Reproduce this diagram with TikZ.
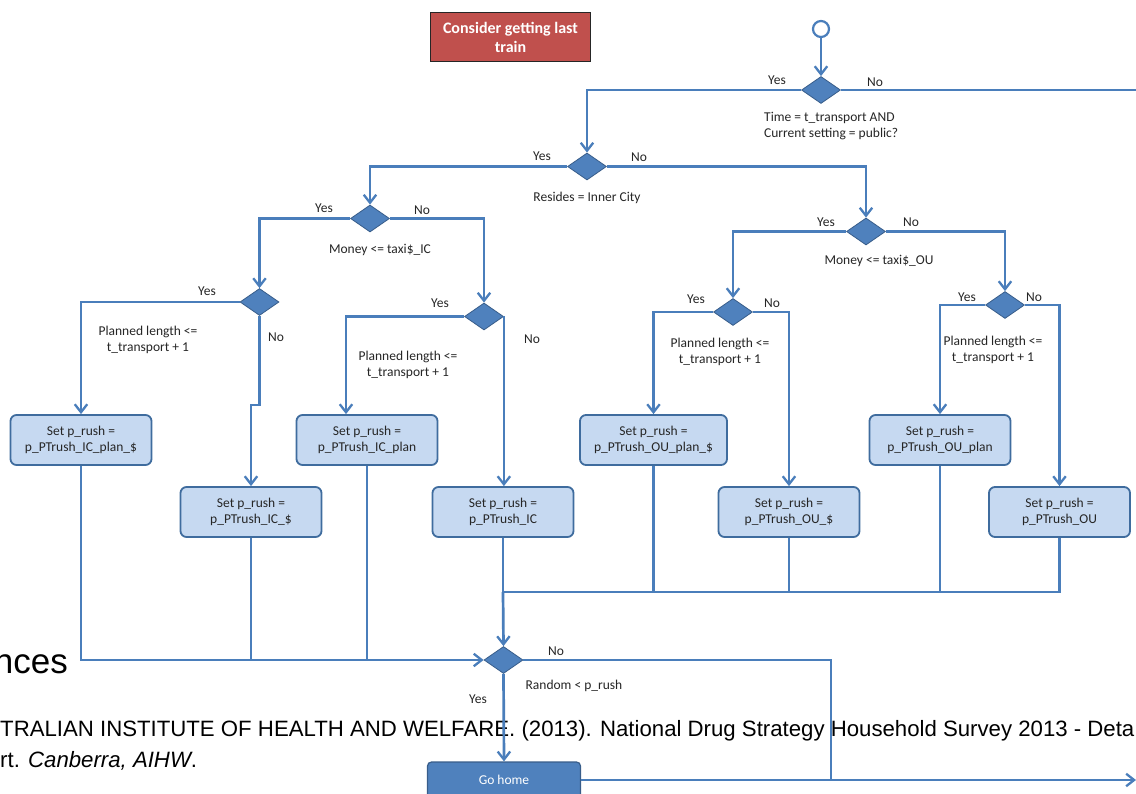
\documentclass[tikz,border=0pt]{standalone}
\usepackage{fontspec}
\setmainfont{Carlito}
\newfontfamily\bgfont{Liberation Sans}
\usetikzlibrary{shapes.geometric,arrows.meta}
\definecolor{lineblue}{HTML}{4A7EBB}
\definecolor{dfill}{HTML}{4F81BD}
\definecolor{dborder}{HTML}{385D8A}
\definecolor{bfill}{HTML}{C6D9F1}
\definecolor{bborder}{HTML}{3F6C9E}
\definecolor{redfill}{HTML}{C0504D}
\newcommand\lbl{\fontsize{13.5}{16}\selectfont}
\begin{document}
\begin{tikzpicture}[x=1pt,y=-1pt,
  conn/.style={draw=lineblue,line width=2.7pt},
  arr/.style={conn,-{Straight Barb[length=8pt,width=12.5pt,line width=2.3pt]}},
  dec/.style={diamond,draw=dborder,fill=dfill,line width=0.8pt,minimum width=39pt,minimum height=27pt,inner sep=0pt},
  proc/.style={rectangle,rounded corners=6pt,draw=bborder,fill=bfill,line width=1.8pt,minimum width=141pt,minimum height=50pt,align=center,font=\lbl,text=black!85,inner sep=0pt},
  lab/.style={font=\lbl,inner sep=0pt,align=center,text=black!85},
  bgtext/.style={inner sep=0pt,text=black}
]
\clip (0,0) rectangle (1136,794);
\fill[white] (0,0) rectangle (1136,794);

% background slide text
\node[bgtext,anchor=base east,font=\bgfont\fontsize{35}{40}\selectfont] (bg1) at (68,673) {nces};
\node[bgtext,anchor=base west,font=\bgfont\fontsize{22.2}{26}\selectfont] (bg2) at (0,736) {TRALIAN INSTITUTE OF HEALTH AND WELFARE. (2013). National Drug Strategy Household Survey 2013 - Deta};
\node[bgtext,anchor=base west,font=\bgfont\fontsize{22.2}{26}\selectfont] (bg3) at (0,767) {rt. \textit{Canberra, AIHW}.};

% title
\node[draw=black!85,fill=redfill,line width=1.8pt,minimum width=160pt,minimum height=49pt,align=center,text=white,inner sep=0pt,font=\bfseries\fontsize{16}{19}\selectfont] (title) at (510.5,37) {Consider getting last\\train};

% start
\node[circle,draw=lineblue,fill=white,line width=2.2pt,minimum size=16pt,inner sep=0pt] (start) at (821,29) {};

% decisions
\node[dec] (D1) at (821,90) {};
\node[dec] (D2) at (587,166.5) {};
\node[dec] (D3) at (370,218.5) {};
\node[dec] (D4) at (866,231.5) {};
\node[dec] (D5) at (259.5,302) {};
\node[dec] (D6) at (484,316.5) {};
\node[dec] (D7) at (733,312) {};
\node[dec] (D8) at (1005,305) {};
\node[dec] (D9) at (503.5,660) {};

% process boxes
\node[proc] (B1) at (81,440) {Set p\_rush =\\p\_PTrush\_IC\_plan\_\$};
\node[proc] (B2) at (251,512) {Set p\_rush =\\p\_PTrush\_IC\_\$};
\node[proc] (B3) at (367,440) {Set p\_rush =\\p\_PTrush\_IC\_plan};
\node[proc] (B4) at (503,512) {Set p\_rush =\\p\_PTrush\_IC};
\node[proc,minimum width=147pt] (B5) at (653.5,440) {Set p\_rush =\\p\_PTrush\_OU\_plan\_\$};
\node[proc] (B6) at (789,512) {Set p\_rush =\\p\_PTrush\_OU\_\$};
\node[proc] (B7) at (940,440) {Set p\_rush =\\p\_PTrush\_OU\_plan};
\node[proc] (B8) at (1059.5,512) {Set p\_rush =\\p\_PTrush\_OU};
\node[rectangle,rounded corners=4pt,draw=dborder,fill=dfill,line width=1.2pt,minimum width=153pt,minimum height=36pt,text=white,inner sep=0pt,font=\lbl] (home) at (504,780) {Go home};

% condition labels
\node[lab,anchor=west,align=left] (L1) at (764,126) {Time = t\_transport AND\\Current setting = public?};
\node[lab] (L2) at (587,198) {Resides = Inner City};
\node[lab] (L3) at (380,250) {Money <= taxi\$\_IC};
\node[lab] (L4) at (879,261) {Money <= taxi\$\_OU};
\node[lab] (L5) at (148,340) {Planned length <=\\t\_transport + 1};
\node[lab] (L6) at (408,365) {Planned length <=\\t\_transport + 1};
\node[lab] (L7) at (720,352) {Planned length <=\\t\_transport + 1};
\node[lab] (L8) at (993,350) {Planned length <=\\t\_transport + 1};
\node[lab] (L9) at (574,686) {Random < p\_rush};

% yes / no
\node[lab] (y1) at (777,80) {Yes};   \node[lab] (n1) at (875,82) {No};
\node[lab] (y2) at (542,156) {Yes};  \node[lab] (n2) at (639,157) {No};
\node[lab] (y3) at (324,208) {Yes};  \node[lab] (n3) at (422,210) {No};
\node[lab] (y4) at (826,222) {Yes};  \node[lab] (n4) at (911,222) {No};
\node[lab] (y5) at (207,291) {Yes};  \node[lab] (n5) at (276,337) {No};
\node[lab] (y6) at (440,303) {Yes};  \node[lab] (n6) at (532,339) {No};
\node[lab] (y7) at (696,299) {Yes};  \node[lab] (n7) at (772,303) {No};
\node[lab] (y8) at (967,297) {Yes};  \node[lab] (n8) at (1034,297) {No};
\node[lab] (y9) at (478,699) {Yes};  \node[lab] (n9) at (556,651) {No};

% coordinates
\coordinate (e1) at (1140,90);
\coordinate (j1) at (259.5,405);
\coordinate (j2) at (251,405);
\coordinate (bus) at (503,592);
\coordinate (rn) at (831,660);
\coordinate (rend) at (1136,780);

% connectors
\draw[arr] (start) -- (D1);
\draw[arr] (D1.west) -| (D2.north);
\draw[conn] (D1.east) -- (e1);
\draw[arr] (D2.west) -| (D3.north);
\draw[arr] (D2.east) -| (D4.north);
\draw[arr] (D3.west) -| (D5.north);
\draw[arr] (D3.east) -| (D6.north);
\draw[arr] (D4.west) -| (D7.north);
\draw[arr] (D4.east) -| (D8.north);
\draw[arr] (D5.west) -| (B1.north);
\draw[arr] (D5.south) -- (j1) -- (j2) -- (B2.north);
\draw[arr] (D6.west) -| ([xshift=-21pt]B3.north);
\draw[arr] (D6.east) -- (D6.east |- B4.north);
\draw[arr] (D7.west) -| (B5.north);
\draw[arr] (D7.east) -| (B6.north);
\draw[arr] (D8.west) -| (B7.north);
\draw[arr] (D8.east) -| (B8.north);
\draw[arr] (B1.south) |- (D9.west);
\draw[conn] (B2.south) -- (B2.south |- D9.west);
\draw[conn] (B3.south) -- (B3.south |- D9.west);
\draw[conn] (B4.south) -- (bus) -- (B8.south |- bus) -- (B8.south);
\draw[conn] (B5.south) -- (B5.south |- bus);
\draw[conn] (B6.south) -- (B6.south |- bus);
\draw[conn] (B7.south) -- (B7.south |- bus);
\draw[arr] (bus) -- (D9.north);
\draw[conn] (D9.east) -- (rn) -- (rn |- rend);
\draw[arr] (D9.south) -- (home.north);
\draw[arr] (home.east |- rend) -- (rend);
\end{tikzpicture}
\end{document}
